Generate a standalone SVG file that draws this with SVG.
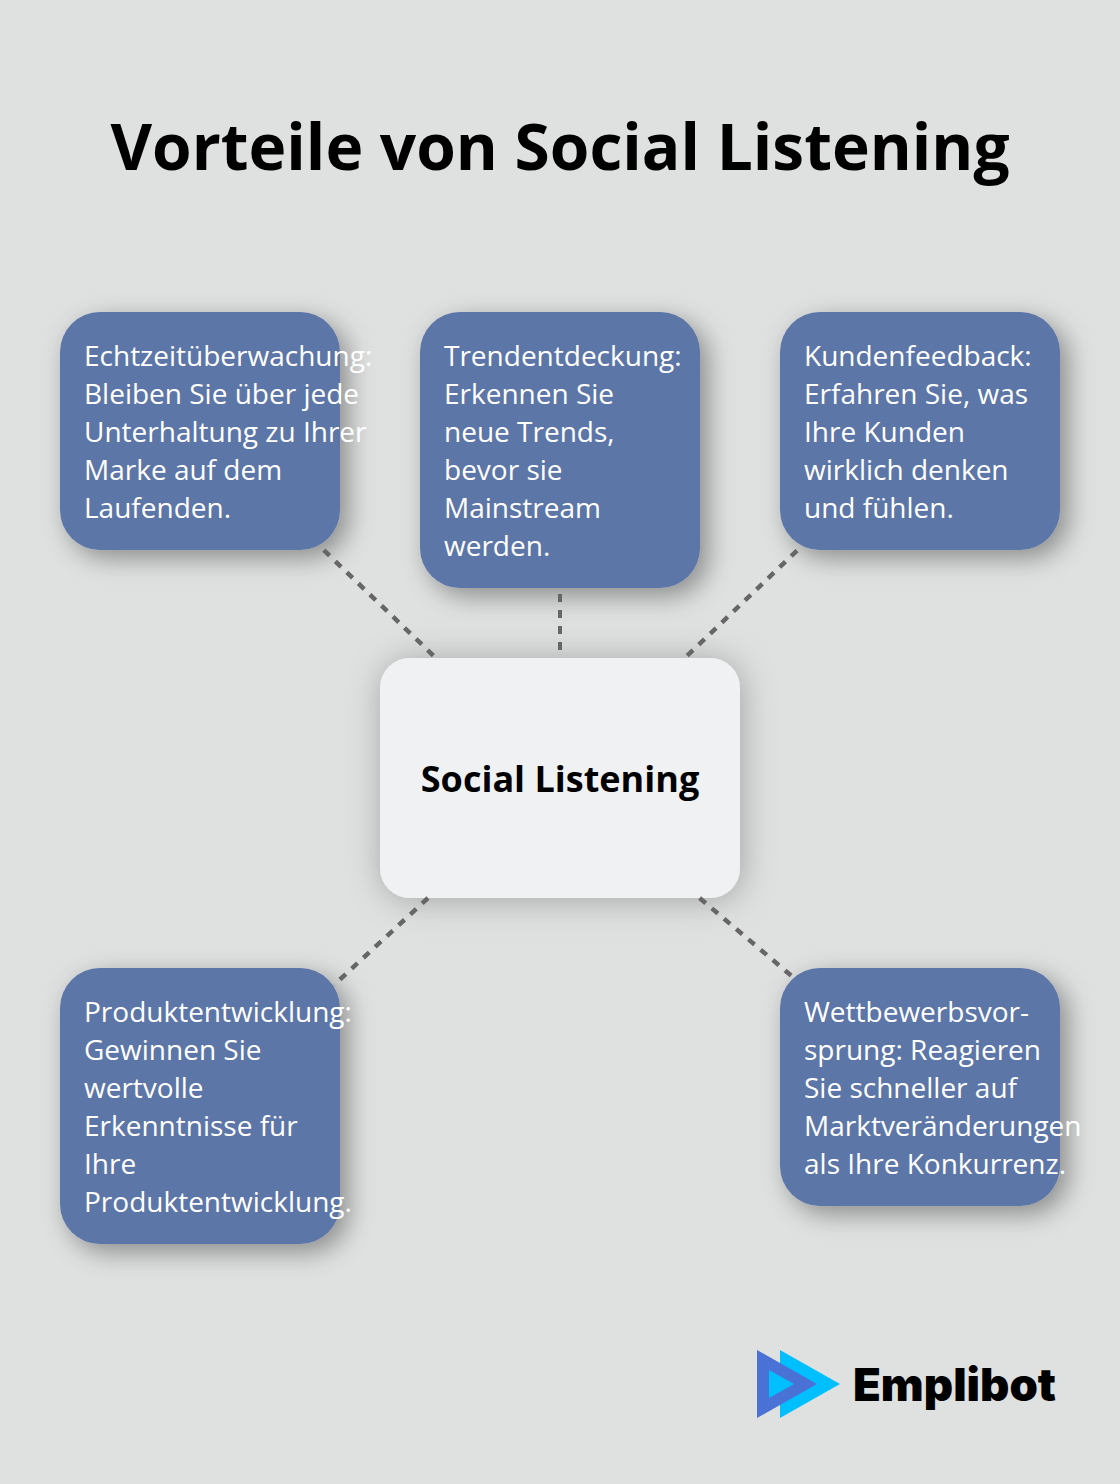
<svg xmlns="http://www.w3.org/2000/svg" width="1120" height="1484" viewBox="0 0 1120 1484">
<defs>
<filter id="sh" x="-30%" y="-30%" width="170%" height="170%"><feDropShadow dx="8" dy="8" stdDeviation="13" flood-color="#000" flood-opacity="0.38"/></filter>
<filter id="shc" x="-30%" y="-30%" width="170%" height="170%"><feDropShadow dx="2" dy="2" stdDeviation="17" flood-color="#000" flood-opacity="0.27"/></filter>
</defs>
<style>
.n{fill:#5d76a8;filter:url(#sh)}
.t{font-family:"Open Sans",sans-serif;font-size:28px;fill:#fff}
.c{stroke:#666;stroke-width:4;stroke-dasharray:8 8;fill:none}
.d{stroke-width:4.5}
</style>
<rect width="1120" height="1484" fill="#dfe1e0"/>
<text x="560" y="170" text-anchor="middle" font-family="'Open Sans',sans-serif" font-weight="700" font-size="64" fill="#000">Vorteile von Social Listening</text>
<g id="center"><rect x="380" y="658" width="360" height="240" rx="30" fill="#f0f1f3" filter="url(#shc)"/><text x="560" y="792" text-anchor="middle" font-family="'Open Sans',sans-serif" font-weight="700" font-size="36" fill="#000">Social Listening</text></g>
<g id="n1"><rect class="n" x="60" y="312" width="280" height="238" rx="40"/><text class="t"><tspan x="84" y="366">Echtzeitüberwachung:</tspan><tspan x="84" y="404">Bleiben Sie über jede</tspan><tspan x="84" y="442">Unterhaltung zu Ihrer</tspan><tspan x="84" y="480">Marke auf dem</tspan><tspan x="84" y="518">Laufenden.</tspan></text></g>
<g id="n2"><rect class="n" x="420" y="312" width="280" height="276" rx="40"/><text class="t"><tspan x="444" y="366">Trendentdeckung:</tspan><tspan x="444" y="404">Erkennen Sie</tspan><tspan x="444" y="442">neue Trends,</tspan><tspan x="444" y="480">bevor sie</tspan><tspan x="444" y="518">Mainstream</tspan><tspan x="444" y="556">werden.</tspan></text></g>
<g id="n3"><rect class="n" x="780" y="312" width="280" height="238" rx="40"/><text class="t"><tspan x="804" y="366">Kundenfeedback:</tspan><tspan x="804" y="404">Erfahren Sie, was</tspan><tspan x="804" y="442">Ihre Kunden</tspan><tspan x="804" y="480">wirklich denken</tspan><tspan x="804" y="518">und fühlen.</tspan></text></g>
<g id="n4"><rect class="n" x="60" y="968" width="280" height="276" rx="40"/><text class="t"><tspan x="84" y="1022">Produktentwicklung:</tspan><tspan x="84" y="1060">Gewinnen Sie</tspan><tspan x="84" y="1098">wertvolle</tspan><tspan x="84" y="1136">Erkenntnisse für</tspan><tspan x="84" y="1174">Ihre</tspan><tspan x="84" y="1212">Produktentwicklung.</tspan></text></g>
<g id="n5"><rect class="n" x="780" y="968" width="280" height="238" rx="40"/><text class="t"><tspan x="804" y="1022">Wettbewerbsvor-</tspan><tspan x="804" y="1060">sprung: Reagieren</tspan><tspan x="804" y="1098">Sie schneller auf</tspan><tspan x="804" y="1136">Marktveränderungen</tspan><tspan x="804" y="1174">als Ihre Konkurrenz.</tspan></text></g>
<g id="connectors">
<line class="c d" x1="323.8" y1="550.2" x2="433.6" y2="655.8"/>
<line class="c" x1="560" y1="594" x2="560" y2="658"/>
<line class="c d" x1="797" y1="550.6" x2="686.6" y2="656.3"/>
<line class="c d" x1="428" y1="898" x2="334" y2="985"/>
<line class="c d" x1="699.6" y1="898" x2="794" y2="978"/>
</g>
<g id="logo">
<polygon points="780,1350 840,1384 780,1418" fill="#00bfff"/>
<polygon points="757,1350 817,1384 757,1418" fill="#4a72d6"/>
<polygon points="769,1370 794,1384 769,1398" fill="#00bfff"/>
<text x="853" y="1401" font-family="Inter,sans-serif" font-weight="900" font-size="45" fill="#000" textLength="203" lengthAdjust="spacingAndGlyphs">Emplibot</text>
</g>
</svg>
